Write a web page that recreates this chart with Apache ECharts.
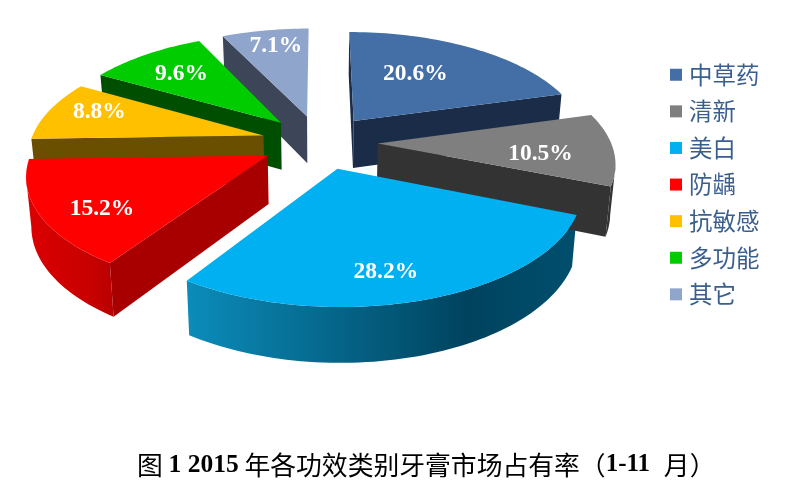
<!DOCTYPE html>
<html>
<head>
<meta charset="utf-8">
<style>html,body{margin:0;padding:0;background:#fff}#c{width:791px;height:504px}</style>
<script src="https://cdn.jsdelivr.net/npm/echarts@6/dist/echarts.min.js"></script>
</head>
<body>
<div id="c"></div>
<script>
var categories = ['中草药','清新','美白','防龋','抗敏感','多功能','其它'];
var shares = [20.6,10.5,28.2,15.2,8.8,9.6,7.1];
var topColors = ['#436fa6','#7f7f7f','#00b0f0','#ff0000','#ffc000','#00cc00','#8fa5cc'];
var cutColors = ['#1a2c47','#333333','#00435e','#a80000','#6a4f00','#004f00','#3c4658'];
var rimStops = [
  ['#1a2c47','#1a2c47'],['#333333','#333333'],
  ['#0b8cba','#00435e','#004f6e'],['#dc0000','#c80000','#b80000'],
  ['#6a4f00','#6a4f00'],['#004f00','#004f00'],['#3c4658','#3c4658']
];
var labelRadius = [0.60,0.69,0.787,0.77,0.784,0.714,0.82];
var labelTurn = [-6.5,4,5,-5,4,0,1.4];
var drawOrder = [6,5,0,4,1,3,2];
var titleText = '图 {b|1 2015} 年各功效类别牙膏市场占有率（{c|1-11} 月）';

// projection of the tilted disc
var CX = 319.5, CY = 142, RX = 233, RY = 108.3, PERSP = 0.151, EXPLODE = 0.25;
var RAD = Math.PI / 180;
function scaleAt(Y){ return 1 / (1 - PERSP * Y); }
function topPoint(X, Y){
  var f = scaleAt(Y);
  return [CX + X * RX * f, CY + Y * RY * f];
}
function lowPoint(X, Y){
  var f = scaleAt(Y);
  return [CX + X * RX * f * 0.982, CY + Y * RY * f + 14 + 34 * f];
}
function sliceGeometry(i){
  var before = 0;
  for (var k = 0; k < i; k++) before += shares[k];
  var a0 = before * 3.6, a1 = (before + shares[i]) * 3.6, mid = (a0 + a1) / 2;
  return {a0:a0, a1:a1, mid:mid,
    ox: EXPLODE * Math.sin(mid * RAD), oy: -EXPLODE * Math.cos(mid * RAD)};
}
function poly(points, fill, z){
  return {type:'polygon', z2:z, shape:{points:points},
    style:{fill:fill, stroke:null}, silent:true};
}
function makeRender(i){
  return function(params, api){
    var g = sliceGeometry(i), kids = [];
    var rimXY = function(a){ return [g.ox + Math.sin(a*RAD), g.oy - Math.cos(a*RAD)]; };
    var tip = topPoint(g.ox, g.oy), tipLow = lowPoint(g.ox, g.oy);
    var arcTop = [], a, n = Math.max(8, Math.round((g.a1 - g.a0) / 1.5));
    var arcAngles = [];
    for (var s = 0; s <= n; s++){
      a = g.a0 + (g.a1 - g.a0) * s / n;
      arcAngles.push(a);
      var p = rimXY(a);
      arcTop.push(topPoint(p[0], p[1]));
    }
    // outer rim, only where it faces the viewer
    var upper = [], lower = [];
    for (s = 0; s < n; s++){
      if (arcTop[s+1][0] < arcTop[s][0]){
        var p0 = rimXY(arcAngles[s]), p1 = rimXY(arcAngles[s+1]);
        if (!upper.length){ upper.push(arcTop[s]); lower.push(lowPoint(p0[0], p0[1])); }
        upper.push(arcTop[s+1]); lower.push(lowPoint(p1[0], p1[1]));
      }
    }
    if (upper.length){
      var st = rimStops[i], stops = st.length === 3
        ? [{offset:0,color:st[0]},{offset:0.72,color:st[1]},{offset:1,color:st[2]}]
        : [{offset:0,color:st[0]},{offset:1,color:st[1]}];
      kids.push(poly(upper.concat(lower.reverse()),
        {type:'linear',x:0,y:0,x2:1,y2:0,colorStops:stops}, 1));
    }
    // cut faces
    var r0 = rimXY(g.a0), r1 = rimXY(g.a1);
    if (arcTop[0][0] < tip[0] - 2)
      kids.push(poly([tip, arcTop[0], lowPoint(r0[0], r0[1]), tipLow], cutColors[i], 2));
    if (arcTop[n][0] > tip[0] + 2)
      kids.push(poly([tip, arcTop[n], lowPoint(r1[0], r1[1]), tipLow], cutColors[i], 2));
    // top face
    kids.push(poly([tip].concat(arcTop), topColors[i], 3));
    // value label
    var la = (g.mid + labelTurn[i]) * RAD, lr = labelRadius[i];
    var lp = topPoint(g.ox + lr * Math.sin(la), g.oy - lr * Math.cos(la));
    kids.push({type:'text', z2:4, silent:true, style:{
      x:lp[0], y:lp[1] + 1.5, text:api.value(0).toFixed(1) + '%',
      align:'center', verticalAlign:'middle', fill:'#fff',
      font:'bold 23.5px "Liberation Serif", serif'
    }});
    return {type:'group', children:kids};
  };
}
var series = drawOrder.map(function(i){
  return {type:'custom', name:categories[i], coordinateSystem:'none',
    data:[[shares[i]]], renderItem:makeRender(i), animation:false, silent:true,
    itemStyle:{color:topColors[i]}, clip:false};
});
var chart = echarts.init(document.getElementById('c'), null, {renderer:'canvas'});
chart.setOption({
  backgroundColor:'#fff',
  animation:false,
  title:{
    text:titleText, left:137, top:452, padding:0,
    textStyle:{fontFamily:'"Noto Sans CJK SC"', fontSize:25.8, fontWeight:'normal', color:'#000',
      rich:{
        b:{fontFamily:'"Liberation Serif"', fontSize:25.5, fontWeight:'bold', color:'#000'},
        c:{fontFamily:'"Liberation Serif"', fontSize:25, fontWeight:'bold', color:'#000', padding:[0,8,0,0]}
      }}
  },
  legend:{
    data:categories, orient:'vertical', left:670, top:63, padding:0,
    icon:'rect', itemWidth:12, itemHeight:12, itemGap:13.1, selectedMode:false,
    textStyle:{fontFamily:'"Noto Sans CJK SC"', fontSize:23.5, lineHeight:22, color:'#3a5f8f', padding:[0,0,0,2]}
  },
  series:series
});
</script>
</body>
</html>
